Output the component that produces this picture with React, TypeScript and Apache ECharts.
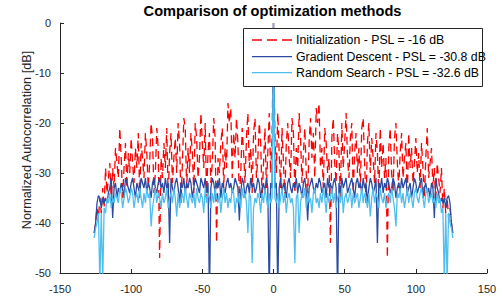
import React, { useEffect, useRef } from "react";
import * as echarts from "echarts";

// Autocorrelation sidelobes (dB) for lags 1..126; the curve is symmetric about lag 0.
const initHalf = [
  -23, -30, -18, -26, -33, -21, -28, -35, -24, -20,
  -27, -31, -19, -22, -34, -25, -29, -18, -23, -32,
  -26, -21, -30, -35, -24, -19, -27, -22, -31, -17,
  -20, -16, -29, -25, -33, -21, -24, -30, -27, -44,
  -23, -19, -28, -32, -22, -26, -35, -20, -29, -24,
  -18, -27, -31, -23, -20, -34, -26, -22, -30, -25,
  -33, -21, -19, -28, -36, -24, -20, -30, -23, -27,
  -32, -22, -26, -35, -21, -29, -24, -31, -27, -47,
  -25, -21, -30, -34, -23, -20, -28, -33, -26, -22,
  -31, -27, -24, -35, -22, -29, -25, -32, -28, -23,
  -30, -26, -33, -24, -29, -35, -27, -21, -31, -28,
  -25, -33, -29, -36, -28, -31, -34, -29, -37, -33,
  -38, -35, -39, -37, -40, -42,
];

const gdHalf = [
  -33, -32, -55, -33, -31, -34, -32, -33, -35, -32,
  -31, -33, -34, -32, -33, -31, -34, -32, -33, -35,
  -32, -31, -34, -39.5, -33, -32, -31, -33, -34, -32,
  -33, -31, -32, -34, -33, -32, -35, -31, -33, -32,
  -34, -32, -31, -33, -55, -32, -34, -31, -33, -32,
  -31, -34, -33, -32, -31, -33, -35, -32, -31, -33,
  -32, -34, -31, -33, -32, -36, -33, -31, -32, -34,
  -33, -31, -44, -32, -33, -31, -34, -32, -33, -31,
  -32, -34, -33, -31, -32, -35, -33, -32, -34, -31,
  -33, -32, -31, -34, -33, -32, -35, -33, -31, -32,
  -34, -33, -32, -31, -35, -33, -32, -34, -33, -35,
  -32, -33, -39, -31, -33, -34, -36, -35, -36, -35,
  -37, -35, -34.5, -36, -40, -42,
];

const rsHalf = [
  -35, -36, -34, -37, -35, -33, -36, -34, -38, -35,
  -34, -36, -35, -37, -48, -35, -34, -42, -36, -34,
  -35, -33, -37, -34, -36, -35, -38, -34, -33, -36,
  -35, -37, -34, -36, -33, -35, -38, -34, -36, -35,
  -33, -36, -34, -37, -35, -34, -36, -33, -38, -35,
  -34, -36, -35, -33, -37, -34, -36, -35, -34, -37,
  -35, -33, -36, -34, -35, -37, -34, -38.7, -35, -33,
  -36, -34, -35, -37, -33, -35, -36, -34, -37, -35,
  -34, -36, -33, -35, -37, -40.7, -34, -35, -33, -36,
  -34, -37, -35, -33, -36, -34, -35, -37, -34, -33,
  -35, -36, -34, -33, -35, -37, -34, -33, -36, -35,
  -34, -36, -35, -37, -34, -36, -35, -38, -37, -52,
  -38, -52, -38, -40, -41, -43,
];

const peakDb = 0;
const seriesNames = [
  "Initialization - PSL = -16 dB",
  "Gradient Descent - PSL = -30.8 dB",
  "Random Search - PSL = -32.6 dB",
];
const seriesColors = ["#ff0000", "#2a4b9f", "#4dbeee"];
const xTicks = [-150, 150, 50];
const yTicks = [-50, 0, 10];

function mirror(half: number[]): number[][] {
  const n = half.length;
  const out: number[][] = [];
  for (let lag = -n; lag <= n; lag++) {
    out.push([lag, lag === 0 ? peakDb : half[Math.abs(lag) - 1]]);
  }
  return out;
}

const FONT = "Liberation Sans, Arial, Helvetica, sans-serif";
const AX = "#262626";
const DASH = [8, 5];

export default function App() {
  const ref = useRef<HTMLDivElement>(null);
  useEffect(() => {
    if (!ref.current) return;
    const chart = echarts.init(ref.current, undefined, { renderer: "svg" });

    const legendTop = 28;
    const legendLeft = 243;
    const rowY = [40, 56.7, 72.7];
    const legendItems: any[] = [
      {
        type: "rect",
        shape: { x: legendLeft + 0.5, y: legendTop + 0.5, width: 239, height: 58 },
        style: { fill: "#ffffff", stroke: AX, lineWidth: 1 },
        z: 100,
      },
    ];
    seriesNames.forEach((name, i) => {
      legendItems.push({
        type: "line",
        shape: { x1: 252, y1: rowY[i], x2: 292, y2: rowY[i] },
        style: {
          stroke: seriesColors[i],
          lineWidth: 1.3,
          lineDash: i === 0 ? [10, 5] : null,
        },
        z: 101,
      });
      legendItems.push({
        type: "text",
        x: 296,
        y: rowY[i],
        style: {
          text: name,
          fontSize: 12.3,
          fontFamily: FONT,
          fill: "#000",
          textAlign: "left",
          textVerticalAlign: "middle",
        },
        z: 101,
      });
    });

    chart.setOption({
      animation: false,
      backgroundColor: "#ffffff",
      textStyle: { fontFamily: FONT },
      title: {
        text: "Comparison of optimization methods",
        left: 272.5,
        textAlign: "center",
        top: 3,
        padding: 0,
        textStyle: { fontSize: 14.6, fontWeight: "bold", color: "#000", fontFamily: FONT },
      },
      grid: { left: 60, right: 16, top: 23, bottom: 30, containLabel: false },
      xAxis: {
        type: "value",
        min: xTicks[0],
        max: xTicks[1],
        interval: xTicks[2],
        axisLine: { onZero: false, lineStyle: { color: AX, width: 1 } },
        axisTick: { inside: true, length: 4, lineStyle: { color: AX } },
        axisLabel: { color: AX, fontSize: 11, margin: 10, fontFamily: FONT },
        splitLine: { show: false },
      },
      yAxis: {
        type: "value",
        min: yTicks[0],
        max: yTicks[1],
        interval: yTicks[2],
        axisLine: { show: true, onZero: false, lineStyle: { color: AX, width: 1 } },
        axisTick: { show: true, inside: true, length: 4, lineStyle: { color: AX } },
        axisLabel: { color: AX, fontSize: 11, margin: 9, fontFamily: FONT },
        splitLine: { show: false },
      },
      graphic: [
        {
          type: "text",
          x: 27,
          y: 140,
          rotation: Math.PI / 2,
          style: {
            text: "Normalized Autocorrelation [dB]",
            fontSize: 12.7,
            fontFamily: FONT,
            fill: AX,
            textAlign: "center",
            textVerticalAlign: "middle",
          },
        },
        ...legendItems,
      ],
      series: [
        {
          name: seriesNames[0],
          type: "line",
          data: mirror(initHalf),
          symbol: "none",
          clip: true,
          lineStyle: { color: seriesColors[0], width: 1.3, type: DASH },
          itemStyle: { color: seriesColors[0] },
        },
        {
          name: seriesNames[1],
          type: "line",
          data: mirror(gdHalf),
          symbol: "none",
          clip: true,
          lineStyle: { color: seriesColors[1], width: 1.3 },
          itemStyle: { color: seriesColors[1] },
        },
        {
          name: seriesNames[2],
          type: "line",
          data: mirror(rsHalf),
          symbol: "none",
          clip: true,
          lineStyle: { color: seriesColors[2], width: 1.3 },
          itemStyle: { color: seriesColors[2] },
        },
      ],
    });
    return () => chart.dispose();
  }, []);
  return <div ref={ref} style={{ width: 503, height: 303, position: "absolute", left: 0, top: 0 }} />;
}
